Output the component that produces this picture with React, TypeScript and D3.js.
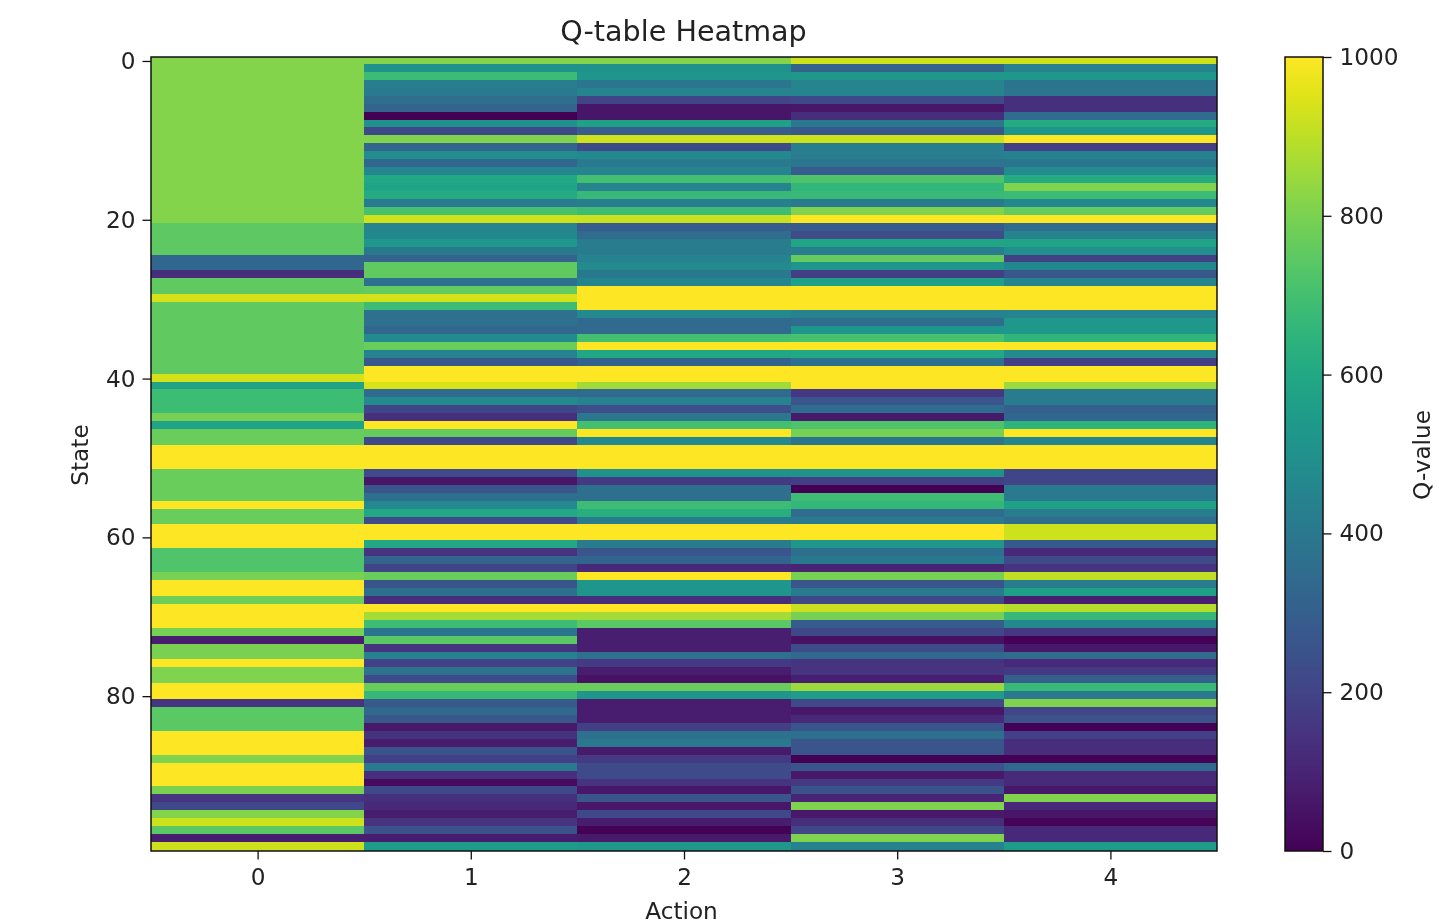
import React, { useEffect, useRef } from "react";
import * as d3 from "d3";

const actions = [0, 1, 2, 3, 4];
const stateTicks = [0, 20, 40, 60, 80];
const colorTicks = [0, 200, 400, 600, 800, 1000];

const action0 = [
  815, 815, 815, 815, 815, 815, 815, 815, 815, 815,
  815, 815, 815, 815, 815, 815, 815, 815, 815, 815,
  815, 750, 750, 750, 750, 330, 330, 130, 755, 755,
  935, 755, 755, 755, 755, 755, 755, 755, 755, 755,
  935, 580, 685, 685, 685, 790, 580, 770, 770, 1000,
  1000, 1000, 770, 770, 770, 770, 1000, 770, 770, 1000,
  1000, 1000, 725, 725, 725, 795, 1000, 1000, 780, 1000,
  1000, 1000, 790, 80, 800, 800, 1000, 805, 805, 1000,
  1000, 155, 745, 745, 745, 1000, 1000, 1000, 805, 1000,
  1000, 1000, 800, 150, 215, 815, 925, 745, 85, 925,
];
const action1 = [
  815, 510, 680, 420, 410, 360, 320, 0, 500, 220,
  812, 320, 490, 330, 460, 600, 580, 610, 410, 710,
  925, 450, 465, 530, 405, 320, 755, 755, 370, 760,
  935, 690, 370, 370, 330, 480, 770, 440, 270, 1000,
  1000, 940, 340, 475, 205, 140, 1000, 765, 215, 1000,
  1000, 1000, 225, 55, 260, 365, 470, 600, 225, 1000,
  1000, 600, 150, 320, 205, 770, 260, 365, 130, 1000,
  865, 685, 385, 745, 150, 445, 190, 380, 225, 770,
  670, 275, 335, 270, 65, 145, 75, 255, 190, 410,
  135, 30, 220, 140, 110, 80, 150, 250, 75, 550,
];
const action2 = [
  815, 510, 520, 390, 450, 200, 55, 55, 570, 290,
  925, 220, 470, 410, 450, 700, 450, 670, 420, 690,
  920, 290, 350, 415, 415, 445, 475, 405, 455, 1000,
  1000, 1000, 470, 340, 340, 700, 1000, 595, 315, 1000,
  1000, 860, 340, 440, 235, 400, 700, 1000, 470, 1000,
  1000, 1000, 500, 165, 360, 360, 690, 630, 415, 1000,
  1000, 415, 260, 320, 115, 1000, 525, 525, 130, 1000,
  865, 745, 85, 85, 85, 370, 165, 80, 45, 770,
  520, 75, 75, 75, 185, 370, 400, 70, 170, 225,
  225, 150, 60, 260, 60, 215, 75, 5, 70, 530,
];
const action3 = [
  925, 310, 530, 450, 450, 215, 60, 130, 400, 270,
  925, 420, 420, 390, 290, 720, 660, 675, 410, 812,
  1000, 285, 230, 590, 420, 765, 525, 185, 565, 1000,
  1000, 1000, 440, 355, 525, 710, 1000, 600, 370, 1000,
  1000, 1000, 160, 260, 350, 70, 720, 790, 385, 1000,
  1000, 1000, 500, 185, 0, 690, 660, 350, 410, 1000,
  1000, 530, 360, 400, 100, 790, 265, 410, 215, 915,
  790, 290, 215, 45, 230, 335, 150, 150, 85, 850,
  550, 215, 60, 110, 260, 365, 265, 265, 0, 260,
  65, 165, 255, 105, 808, 65, 130, 210, 808, 440,
];
const action4 = [
  925, 445, 530, 385, 390, 140, 140, 350, 610, 525,
  1000, 180, 440, 385, 480, 610, 805, 680, 465, 760,
  1000, 350, 445, 585, 495, 190, 465, 270, 450, 1000,
  1000, 1000, 450, 530, 530, 650, 1000, 475, 180, 1000,
  1000, 850, 415, 415, 300, 330, 650, 1000, 455, 1000,
  1000, 1000, 205, 205, 410, 410, 570, 415, 355, 925,
  925, 280, 115, 225, 150, 905, 415, 570, 85, 890,
  670, 470, 160, 5, 65, 350, 110, 165, 300, 675,
  400, 808, 210, 250, 5, 190, 125, 125, 5, 335,
  120, 120, 60, 812, 110, 55, 10, 115, 115, 550,
];
const qTable = [action0, action1, action2, action3, action4];

function App() {
  const svgRef = useRef<SVGSVGElement>(null);

  useEffect(() => {
    const width = 1439;
    const height = 923;
    const left = 151;
    const right = 1217;
    const top = 57;
    const bottom = 851;
    const barLeft = 1285;
    const barRight = 1323;
    const tickFont = 23.2;

    const svg = d3.select(svgRef.current)
      .attr("width", width)
      .attr("height", height)
      .attr("font-family", "DejaVu Sans");

    svg.selectAll("*").remove();

    const xScale = d3.scaleLinear().domain([-0.5, 4.5]).range([left, right]);
    const yScale = d3.scaleLinear().domain([-0.5, 99.5]).range([top, bottom]);
    // image rows sit about a pixel above the axis scale in the picture
    const rowScale = d3.scaleLinear().domain([-0.5, 99.5]).range([top - 1, bottom - 1]);
    const barScale = d3.scaleLinear().domain([0, 1000]).range([bottom, top]);
    const color = d3.scaleSequential(d3.interpolateViridis).domain([0, 1000]);

    // Heatmap cells
    qTable.forEach((column, a) => {
      svg.append("g")
        .attr("shape-rendering", "crispEdges")
        .selectAll("rect")
        .data(column)
        .enter()
        .append("rect")
        .attr("x", xScale(a - 0.5))
        .attr("width", xScale(a + 0.5) - xScale(a - 0.5))
        .attr("y", (d, i) => Math.max(top, rowScale(i - 0.5)))
        .attr("height", (d, i) => (i === column.length - 1 ? bottom : rowScale(i + 0.5)) - Math.max(top, rowScale(i - 0.5)))
        .attr("fill", d => color(d));
    });

    // Plot frame
    svg.append("rect")
      .attr("x", left)
      .attr("y", top)
      .attr("width", right - left)
      .attr("height", bottom - top)
      .attr("fill", "none")
      .attr("stroke", "#111")
      .attr("stroke-width", 1.5);

    const styleAxis = (g) => {
      g.select(".domain").remove();
      g.selectAll(".tick line").attr("stroke", "#111").attr("stroke-width", 1.3);
      g.selectAll(".tick text").attr("font-size", tickFont).attr("font-family", "DejaVu Sans").attr("fill", "#222");
    };

    svg.append("g")
      .attr("transform", `translate(0,${bottom})`)
      .call(d3.axisBottom(xScale).tickValues(actions).tickFormat(d3.format("d")).tickSize(8.5).tickPadding(9))
      .call(styleAxis);

    svg.append("g")
      .attr("transform", `translate(${left},0)`)
      .call(d3.axisLeft(yScale).tickValues(stateTicks).tickFormat(d3.format("d")).tickSize(8.5).tickPadding(7))
      .call(styleAxis);

    // Colorbar
    const gradient = svg.append("defs").append("linearGradient")
      .attr("id", "viridis-bar")
      .attr("x1", 0).attr("x2", 0).attr("y1", 1).attr("y2", 0);
    gradient.selectAll("stop")
      .data(d3.range(0, 1.01, 0.05))
      .enter()
      .append("stop")
      .attr("offset", d => d)
      .attr("stop-color", d => d3.interpolateViridis(d));

    svg.append("rect")
      .attr("x", barLeft)
      .attr("y", top)
      .attr("width", barRight - barLeft)
      .attr("height", bottom - top)
      .attr("fill", "url(#viridis-bar)")
      .attr("stroke", "#111")
      .attr("stroke-width", 1.5);

    svg.append("g")
      .attr("transform", `translate(${barRight},0)`)
      .call(d3.axisRight(barScale).tickValues(colorTicks).tickFormat(d3.format("d")).tickSize(8.5).tickPadding(8))
      .call(styleAxis);

    // Titles
    svg.append("text")
      .attr("x", 683.5)
      .attr("y", 41)
      .attr("text-anchor", "middle")
      .attr("font-size", 28.6)
      .attr("fill", "#222")
      .text("Q-table Heatmap");

    svg.append("text")
      .attr("x", 681.5)
      .attr("y", 919)
      .attr("text-anchor", "middle")
      .attr("font-size", tickFont)
      .attr("fill", "#222")
      .text("Action");

    svg.append("text")
      .attr("transform", `translate(88,455) rotate(-90)`)
      .attr("text-anchor", "middle")
      .attr("font-size", tickFont)
      .attr("fill", "#222")
      .text("State");

    svg.append("text")
      .attr("transform", `translate(1430,455) rotate(-90)`)
      .attr("text-anchor", "middle")
      .attr("font-size", tickFont)
      .attr("fill", "#222")
      .text("Q-value");
  }, []);

  return (
    <svg
      ref={svgRef}
      style={{ position: "absolute", left: 0, top: 0, display: "block", filter: "blur(0.5px)" }}
    ></svg>
  );
}

export default App;
